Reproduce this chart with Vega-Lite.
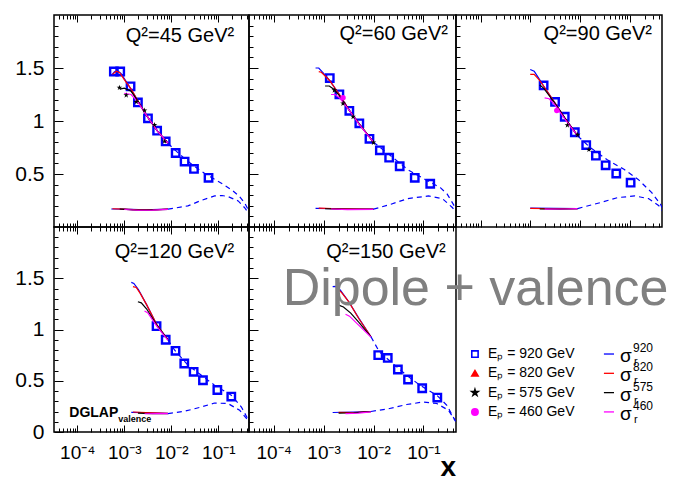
{
"$schema": "https://vega.github.io/schema/vega-lite/v6.json",
"background": "white",
"padding": {"left": 14, "top": 13, "right": 0, "bottom": 4},
"columns": 3,
"spacing": 0,
"bounds": "flush",
"align": "each",
"datasets": {
"pts": [
{"p":1,"e":"920","x":0.0006,"y":1.467},{"p":1,"e":"920","x":0.00082,"y":1.467},{"p":1,"e":"920","x":0.00136,"y":1.327},{"p":1,"e":"920","x":0.00195,"y":1.175},{"p":1,"e":"920","x":0.00319,"y":1.025},{"p":1,"e":"920","x":0.005,"y":0.909},{"p":1,"e":"920","x":0.0076,"y":0.807},{"p":1,"e":"920","x":0.0124,"y":0.698},{"p":1,"e":"920","x":0.0192,"y":0.617},{"p":1,"e":"920","x":0.0304,"y":0.548},{"p":1,"e":"920","x":0.062,"y":0.464},
{"p":1,"e":"575","x":0.00079,"y":1.315},{"p":1,"e":"575","x":0.0011,"y":1.243},{"p":1,"e":"575","x":0.0018,"y":1.18},{"p":1,"e":"575","x":0.0027,"y":1.10},{"p":1,"e":"575","x":0.0044,"y":0.963},{"p":1,"e":"575","x":0.0072,"y":0.807},
{"p":2,"e":"920","x":0.00133,"y":1.405},{"p":2,"e":"920","x":0.00207,"y":1.252},{"p":2,"e":"920","x":0.00328,"y":1.096},{"p":2,"e":"920","x":0.0052,"y":0.978},{"p":2,"e":"920","x":0.0083,"y":0.832},{"p":2,"e":"920","x":0.0134,"y":0.723},{"p":2,"e":"920","x":0.0206,"y":0.654},{"p":2,"e":"920","x":0.0335,"y":0.573},{"p":2,"e":"920","x":0.0671,"y":0.464},{"p":2,"e":"920","x":0.137,"y":0.408},
{"p":2,"e":"575","x":0.00164,"y":1.29},{"p":2,"e":"575","x":0.00245,"y":1.165},{"p":2,"e":"575","x":0.0039,"y":1.04},{"p":2,"e":"575","x":0.01,"y":0.797},
{"p":2,"e":"460","x":0.00245,"y":1.22},
{"p":3,"e":"920","x":0.00186,"y":1.336},{"p":3,"e":"920","x":0.00316,"y":1.18},{"p":3,"e":"920","x":0.00495,"y":1.04},{"p":3,"e":"920","x":0.0079,"y":0.894},{"p":3,"e":"920","x":0.0134,"y":0.773},{"p":3,"e":"920","x":0.021,"y":0.673},{"p":3,"e":"920","x":0.033,"y":0.582},{"p":3,"e":"920","x":0.054,"y":0.505},{"p":3,"e":"920","x":0.105,"y":0.418},
{"p":3,"e":"575","x":0.0056,"y":0.96},{"p":3,"e":"575","x":0.009,"y":0.87},{"p":3,"e":"575","x":0.0152,"y":0.729},
{"p":3,"e":"460","x":0.00343,"y":1.10},
{"p":4,"e":"920","x":0.00486,"y":1.033},{"p":4,"e":"920","x":0.0076,"y":0.9},{"p":4,"e":"920","x":0.0123,"y":0.792},{"p":4,"e":"920","x":0.0189,"y":0.668},{"p":4,"e":"920","x":0.0299,"y":0.587},{"p":4,"e":"920","x":0.0472,"y":0.505},{"p":4,"e":"920","x":0.0955,"y":0.41},{"p":4,"e":"920","x":0.189,"y":0.346},
{"p":5,"e":"920","x":0.01245,"y":0.75},{"p":5,"e":"920","x":0.0193,"y":0.723},{"p":5,"e":"920","x":0.0308,"y":0.61},{"p":5,"e":"920","x":0.0492,"y":0.512},{"p":5,"e":"920","x":0.0946,"y":0.427},{"p":5,"e":"920","x":0.19,"y":0.336}
],
"curves": [
{"p":1,"s":"920","part":"up","x":0.00053,"y":1.43},{"p":1,"s":"920","part":"up","x":0.00062,"y":1.465},{"p":1,"s":"920","part":"up","x":0.00072,"y":1.475},{"p":1,"s":"920","part":"up","x":0.00085,"y":1.45},{"p":1,"s":"920","part":"up","x":0.001,"y":1.40},{"p":1,"s":"920","part":"up","x":0.0014,"y":1.30},{"p":1,"s":"920","part":"up","x":0.002,"y":1.18},{"p":1,"s":"920","part":"up","x":0.003,"y":1.05},{"p":1,"s":"920","part":"up","x":0.005,"y":0.91},{"p":1,"s":"920","part":"up","x":0.0085,"y":0.79},
{"p":1,"s":"920","part":"lo","x":0.00053,"y":0.17},{"p":1,"s":"920","part":"lo","x":0.001,"y":0.168},{"p":1,"s":"920","part":"lo","x":0.002,"y":0.163},{"p":1,"s":"920","part":"lo","x":0.004,"y":0.163},{"p":1,"s":"920","part":"lo","x":0.0085,"y":0.168},
{"p":1,"s":"820","part":"up","x":0.00056,"y":1.44},{"p":1,"s":"820","part":"up","x":0.00068,"y":1.47},{"p":1,"s":"820","part":"up","x":0.0008,"y":1.455},{"p":1,"s":"820","part":"up","x":0.001,"y":1.39},{"p":1,"s":"820","part":"up","x":0.0014,"y":1.30},{"p":1,"s":"820","part":"up","x":0.002,"y":1.18},{"p":1,"s":"820","part":"up","x":0.003,"y":1.05},{"p":1,"s":"820","part":"up","x":0.005,"y":0.91},{"p":1,"s":"820","part":"up","x":0.0085,"y":0.79},
{"p":1,"s":"820","part":"lo","x":0.00056,"y":0.172},{"p":1,"s":"820","part":"lo","x":0.001,"y":0.168},{"p":1,"s":"820","part":"lo","x":0.002,"y":0.162},{"p":1,"s":"820","part":"lo","x":0.004,"y":0.162},{"p":1,"s":"820","part":"lo","x":0.0085,"y":0.168},
{"p":1,"s":"575","part":"up","x":0.0008,"y":1.30},{"p":1,"s":"575","part":"up","x":0.001,"y":1.31},{"p":1,"s":"575","part":"up","x":0.0014,"y":1.28},{"p":1,"s":"575","part":"up","x":0.002,"y":1.18},{"p":1,"s":"575","part":"up","x":0.003,"y":1.05},{"p":1,"s":"575","part":"up","x":0.005,"y":0.91},{"p":1,"s":"575","part":"up","x":0.0085,"y":0.79},
{"p":1,"s":"575","part":"lo","x":0.0008,"y":0.17},{"p":1,"s":"575","part":"lo","x":0.0015,"y":0.162},{"p":1,"s":"575","part":"lo","x":0.003,"y":0.16},{"p":1,"s":"575","part":"lo","x":0.0085,"y":0.167},
{"p":1,"s":"460","part":"up","x":0.001,"y":1.26},{"p":1,"s":"460","part":"up","x":0.0014,"y":1.25},{"p":1,"s":"460","part":"up","x":0.002,"y":1.17},{"p":1,"s":"460","part":"up","x":0.003,"y":1.05},{"p":1,"s":"460","part":"up","x":0.005,"y":0.91},{"p":1,"s":"460","part":"up","x":0.0085,"y":0.79},
{"p":1,"s":"460","part":"lo","x":0.001,"y":0.165},{"p":1,"s":"460","part":"lo","x":0.002,"y":0.158},{"p":1,"s":"460","part":"lo","x":0.004,"y":0.16},{"p":1,"s":"460","part":"lo","x":0.0085,"y":0.166},
{"p":1,"s":"dash","part":"up","x":0.0085,"y":0.79},{"p":1,"s":"dash","part":"up","x":0.0124,"y":0.72},{"p":1,"s":"dash","part":"up","x":0.0192,"y":0.645},{"p":1,"s":"dash","part":"up","x":0.0304,"y":0.575},{"p":1,"s":"dash","part":"up","x":0.05,"y":0.51},{"p":1,"s":"dash","part":"up","x":0.08,"y":0.455},{"p":1,"s":"dash","part":"up","x":0.13,"y":0.40},{"p":1,"s":"dash","part":"up","x":0.2,"y":0.345},{"p":1,"s":"dash","part":"up","x":0.28,"y":0.29},{"p":1,"s":"dash","part":"up","x":0.36,"y":0.23},{"p":1,"s":"dash","part":"up","x":0.45,"y":0.15},{"p":1,"s":"dash","part":"up","x":0.5,"y":0.11},
{"p":1,"s":"dash","part":"lo","x":0.0085,"y":0.168},{"p":1,"s":"dash","part":"lo","x":0.0226,"y":0.199},{"p":1,"s":"dash","part":"lo","x":0.044,"y":0.252},{"p":1,"s":"dash","part":"lo","x":0.084,"y":0.293},{"p":1,"s":"dash","part":"lo","x":0.12,"y":0.297},{"p":1,"s":"dash","part":"lo","x":0.16,"y":0.287},{"p":1,"s":"dash","part":"lo","x":0.265,"y":0.246},{"p":1,"s":"dash","part":"lo","x":0.36,"y":0.184},{"p":1,"s":"dash","part":"lo","x":0.47,"y":0.112},

{"p":2,"s":"920","part":"up","x":0.00069,"y":1.50},{"p":2,"s":"920","part":"up","x":0.0008,"y":1.50},{"p":2,"s":"920","part":"up","x":0.001,"y":1.45},{"p":2,"s":"920","part":"up","x":0.00133,"y":1.38},{"p":2,"s":"920","part":"up","x":0.00207,"y":1.25},{"p":2,"s":"920","part":"up","x":0.00328,"y":1.10},{"p":2,"s":"920","part":"up","x":0.0052,"y":0.97},{"p":2,"s":"920","part":"up","x":0.01,"y":0.80},
{"p":2,"s":"920","part":"lo","x":0.00069,"y":0.175},{"p":2,"s":"920","part":"lo","x":0.002,"y":0.172},{"p":2,"s":"920","part":"lo","x":0.005,"y":0.17},{"p":2,"s":"920","part":"lo","x":0.01,"y":0.168},
{"p":2,"s":"820","part":"up","x":0.0008,"y":1.465},{"p":2,"s":"820","part":"up","x":0.0009,"y":1.46},{"p":2,"s":"820","part":"up","x":0.0011,"y":1.42},{"p":2,"s":"820","part":"up","x":0.00133,"y":1.38},{"p":2,"s":"820","part":"up","x":0.00207,"y":1.25},{"p":2,"s":"820","part":"up","x":0.00328,"y":1.10},{"p":2,"s":"820","part":"up","x":0.0052,"y":0.97},{"p":2,"s":"820","part":"up","x":0.01,"y":0.80},
{"p":2,"s":"820","part":"lo","x":0.0008,"y":0.178},{"p":2,"s":"820","part":"lo","x":0.002,"y":0.172},{"p":2,"s":"820","part":"lo","x":0.01,"y":0.168},
{"p":2,"s":"575","part":"up","x":0.00107,"y":1.33},{"p":2,"s":"575","part":"up","x":0.0013,"y":1.33},{"p":2,"s":"575","part":"up","x":0.0016,"y":1.30},{"p":2,"s":"575","part":"up","x":0.00207,"y":1.24},{"p":2,"s":"575","part":"up","x":0.00328,"y":1.10},{"p":2,"s":"575","part":"up","x":0.0052,"y":0.97},{"p":2,"s":"575","part":"up","x":0.01,"y":0.80},
{"p":2,"s":"575","part":"lo","x":0.00107,"y":0.172},{"p":2,"s":"575","part":"lo","x":0.003,"y":0.166},{"p":2,"s":"575","part":"lo","x":0.01,"y":0.167},
{"p":2,"s":"460","part":"up","x":0.00141,"y":1.25},{"p":2,"s":"460","part":"up","x":0.0017,"y":1.25},{"p":2,"s":"460","part":"up","x":0.00207,"y":1.22},{"p":2,"s":"460","part":"up","x":0.00328,"y":1.10},{"p":2,"s":"460","part":"up","x":0.0052,"y":0.965},{"p":2,"s":"460","part":"up","x":0.01,"y":0.80},
{"p":2,"s":"460","part":"lo","x":0.00141,"y":0.17},{"p":2,"s":"460","part":"lo","x":0.003,"y":0.164},{"p":2,"s":"460","part":"lo","x":0.01,"y":0.166},
{"p":2,"s":"dash","part":"up","x":0.01,"y":0.80},{"p":2,"s":"dash","part":"up","x":0.0224,"y":0.67},{"p":2,"s":"dash","part":"up","x":0.049,"y":0.54},{"p":2,"s":"dash","part":"up","x":0.108,"y":0.449},{"p":2,"s":"dash","part":"up","x":0.219,"y":0.371},{"p":2,"s":"dash","part":"up","x":0.3,"y":0.31},{"p":2,"s":"dash","part":"up","x":0.38,"y":0.23},{"p":2,"s":"dash","part":"up","x":0.52,"y":0.12},
{"p":2,"s":"dash","part":"lo","x":0.01,"y":0.168},{"p":2,"s":"dash","part":"lo","x":0.0224,"y":0.215},{"p":2,"s":"dash","part":"lo","x":0.049,"y":0.268},{"p":2,"s":"dash","part":"lo","x":0.126,"y":0.293},{"p":2,"s":"dash","part":"lo","x":0.24,"y":0.268},{"p":2,"s":"dash","part":"lo","x":0.38,"y":0.184},{"p":2,"s":"dash","part":"lo","x":0.52,"y":0.106},

{"p":3,"s":"920","part":"up","x":0.001,"y":1.486},{"p":3,"s":"920","part":"up","x":0.0012,"y":1.47},{"p":3,"s":"920","part":"up","x":0.0015,"y":1.40},{"p":3,"s":"920","part":"up","x":0.00186,"y":1.33},{"p":3,"s":"920","part":"up","x":0.00316,"y":1.17},{"p":3,"s":"920","part":"up","x":0.00495,"y":1.03},{"p":3,"s":"920","part":"up","x":0.009,"y":0.86},
{"p":3,"s":"920","part":"lo","x":0.001,"y":0.178},{"p":3,"s":"920","part":"lo","x":0.003,"y":0.175},{"p":3,"s":"920","part":"lo","x":0.009,"y":0.174},
{"p":3,"s":"820","part":"up","x":0.001,"y":1.44},{"p":3,"s":"820","part":"up","x":0.0012,"y":1.44},{"p":3,"s":"820","part":"up","x":0.0015,"y":1.39},{"p":3,"s":"820","part":"up","x":0.00186,"y":1.33},{"p":3,"s":"820","part":"up","x":0.00316,"y":1.17},{"p":3,"s":"820","part":"up","x":0.00495,"y":1.03},{"p":3,"s":"820","part":"up","x":0.009,"y":0.86},
{"p":3,"s":"820","part":"lo","x":0.001,"y":0.176},{"p":3,"s":"820","part":"lo","x":0.003,"y":0.172},{"p":3,"s":"820","part":"lo","x":0.009,"y":0.174},
{"p":3,"s":"575","part":"up","x":0.00155,"y":1.34},{"p":3,"s":"575","part":"up","x":0.00186,"y":1.31},{"p":3,"s":"575","part":"up","x":0.00316,"y":1.165},{"p":3,"s":"575","part":"up","x":0.00495,"y":1.03},{"p":3,"s":"575","part":"up","x":0.009,"y":0.86},
{"p":3,"s":"575","part":"lo","x":0.00155,"y":0.17},{"p":3,"s":"575","part":"lo","x":0.004,"y":0.168},{"p":3,"s":"575","part":"lo","x":0.009,"y":0.172},
{"p":3,"s":"460","part":"up","x":0.00195,"y":1.218},{"p":3,"s":"460","part":"up","x":0.0024,"y":1.21},{"p":3,"s":"460","part":"up","x":0.00316,"y":1.15},{"p":3,"s":"460","part":"up","x":0.00495,"y":1.02},{"p":3,"s":"460","part":"up","x":0.009,"y":0.86},
{"p":3,"s":"460","part":"lo","x":0.00195,"y":0.168},{"p":3,"s":"460","part":"lo","x":0.005,"y":0.17},{"p":3,"s":"460","part":"lo","x":0.009,"y":0.173},
{"p":3,"s":"dash","part":"up","x":0.009,"y":0.86},{"p":3,"s":"dash","part":"up","x":0.0152,"y":0.76},{"p":3,"s":"dash","part":"up","x":0.035,"y":0.636},{"p":3,"s":"dash","part":"up","x":0.0785,"y":0.542},{"p":3,"s":"dash","part":"up","x":0.149,"y":0.449},{"p":3,"s":"dash","part":"up","x":0.28,"y":0.324},{"p":3,"s":"dash","part":"up","x":0.42,"y":0.215},{"p":3,"s":"dash","part":"up","x":0.52,"y":0.12},
{"p":3,"s":"dash","part":"lo","x":0.009,"y":0.174},{"p":3,"s":"dash","part":"lo","x":0.0257,"y":0.23},{"p":3,"s":"dash","part":"lo","x":0.057,"y":0.277},{"p":3,"s":"dash","part":"lo","x":0.127,"y":0.293},{"p":3,"s":"dash","part":"lo","x":0.24,"y":0.268},{"p":3,"s":"dash","part":"lo","x":0.39,"y":0.2},{"p":3,"s":"dash","part":"lo","x":0.52,"y":0.12},

{"p":4,"s":"920","part":"up","x":0.00141,"y":1.46},{"p":4,"s":"920","part":"up","x":0.0016,"y":1.45},{"p":4,"s":"920","part":"up","x":0.002,"y":1.39},{"p":4,"s":"920","part":"up","x":0.003,"y":1.24},{"p":4,"s":"920","part":"up","x":0.00486,"y":1.05},{"p":4,"s":"920","part":"up","x":0.0085,"y":0.9},
{"p":4,"s":"920","part":"lo","x":0.00141,"y":0.192},{"p":4,"s":"920","part":"lo","x":0.004,"y":0.188},{"p":4,"s":"920","part":"lo","x":0.0085,"y":0.182},
{"p":4,"s":"820","part":"up","x":0.00153,"y":1.418},{"p":4,"s":"820","part":"up","x":0.0018,"y":1.41},{"p":4,"s":"820","part":"up","x":0.0022,"y":1.35},{"p":4,"s":"820","part":"up","x":0.003,"y":1.24},{"p":4,"s":"820","part":"up","x":0.00486,"y":1.05},{"p":4,"s":"820","part":"up","x":0.0085,"y":0.9},
{"p":4,"s":"820","part":"lo","x":0.00153,"y":0.195},{"p":4,"s":"820","part":"lo","x":0.004,"y":0.186},{"p":4,"s":"820","part":"lo","x":0.0085,"y":0.182},
{"p":4,"s":"575","part":"up","x":0.00195,"y":1.271},{"p":4,"s":"575","part":"up","x":0.0023,"y":1.26},{"p":4,"s":"575","part":"up","x":0.003,"y":1.20},{"p":4,"s":"575","part":"up","x":0.00486,"y":1.045},{"p":4,"s":"575","part":"up","x":0.0085,"y":0.9},
{"p":4,"s":"575","part":"lo","x":0.00195,"y":0.185},{"p":4,"s":"575","part":"lo","x":0.004,"y":0.18},{"p":4,"s":"575","part":"lo","x":0.0085,"y":0.18},
{"p":4,"s":"460","part":"up","x":0.0027,"y":1.18},{"p":4,"s":"460","part":"up","x":0.0032,"y":1.16},{"p":4,"s":"460","part":"up","x":0.00486,"y":1.035},{"p":4,"s":"460","part":"up","x":0.0085,"y":0.895},
{"p":4,"s":"460","part":"lo","x":0.0027,"y":0.178},{"p":4,"s":"460","part":"lo","x":0.005,"y":0.18},{"p":4,"s":"460","part":"lo","x":0.0085,"y":0.18},
{"p":4,"s":"dash","part":"up","x":0.0085,"y":0.9},{"p":4,"s":"dash","part":"up","x":0.0117,"y":0.8},{"p":4,"s":"dash","part":"up","x":0.0227,"y":0.652},{"p":4,"s":"dash","part":"up","x":0.0436,"y":0.554},{"p":4,"s":"dash","part":"up","x":0.083,"y":0.457},{"p":4,"s":"dash","part":"up","x":0.189,"y":0.359},{"p":4,"s":"dash","part":"up","x":0.31,"y":0.244},{"p":4,"s":"dash","part":"up","x":0.46,"y":0.098},
{"p":4,"s":"dash","part":"lo","x":0.0085,"y":0.18},{"p":4,"s":"dash","part":"lo","x":0.019,"y":0.202},{"p":4,"s":"dash","part":"lo","x":0.0436,"y":0.244},{"p":4,"s":"dash","part":"lo","x":0.083,"y":0.283},{"p":4,"s":"dash","part":"lo","x":0.16,"y":0.278},{"p":4,"s":"dash","part":"lo","x":0.285,"y":0.212},{"p":4,"s":"dash","part":"lo","x":0.46,"y":0.098},

{"p":5,"s":"920","part":"up","x":0.00152,"y":1.418},{"p":5,"s":"920","part":"up","x":0.00175,"y":1.42},{"p":5,"s":"920","part":"up","x":0.00215,"y":1.385},{"p":5,"s":"920","part":"up","x":0.0032,"y":1.271},{"p":5,"s":"920","part":"up","x":0.0051,"y":1.108},{"p":5,"s":"920","part":"up","x":0.0089,"y":0.929},
{"p":5,"s":"920","part":"lo","x":0.00152,"y":0.19},{"p":5,"s":"920","part":"lo","x":0.004,"y":0.195},{"p":5,"s":"920","part":"lo","x":0.0089,"y":0.2},
{"p":5,"s":"820","part":"up","x":0.002,"y":1.385},{"p":5,"s":"820","part":"up","x":0.0023,"y":1.36},{"p":5,"s":"820","part":"up","x":0.0032,"y":1.27},{"p":5,"s":"820","part":"up","x":0.0051,"y":1.105},{"p":5,"s":"820","part":"up","x":0.0089,"y":0.929},
{"p":5,"s":"820","part":"lo","x":0.002,"y":0.192},{"p":5,"s":"820","part":"lo","x":0.004,"y":0.19},{"p":5,"s":"820","part":"lo","x":0.0089,"y":0.2},
{"p":5,"s":"575","part":"up","x":0.002,"y":1.238},{"p":5,"s":"575","part":"up","x":0.0025,"y":1.22},{"p":5,"s":"575","part":"up","x":0.0035,"y":1.16},{"p":5,"s":"575","part":"up","x":0.0051,"y":1.07},{"p":5,"s":"575","part":"up","x":0.0089,"y":0.929},
{"p":5,"s":"575","part":"lo","x":0.002,"y":0.185},{"p":5,"s":"575","part":"lo","x":0.004,"y":0.188},{"p":5,"s":"575","part":"lo","x":0.0089,"y":0.198},
{"p":5,"s":"460","part":"up","x":0.00275,"y":1.148},{"p":5,"s":"460","part":"up","x":0.0033,"y":1.13},{"p":5,"s":"460","part":"up","x":0.0051,"y":1.04},{"p":5,"s":"460","part":"up","x":0.0089,"y":0.925},
{"p":5,"s":"460","part":"lo","x":0.00275,"y":0.18},{"p":5,"s":"460","part":"lo","x":0.005,"y":0.185},{"p":5,"s":"460","part":"lo","x":0.0089,"y":0.197},
{"p":5,"s":"dash","part":"up","x":0.0089,"y":0.929},{"p":5,"s":"dash","part":"up","x":0.0131,"y":0.782},{"p":5,"s":"dash","part":"up","x":0.0245,"y":0.668},{"p":5,"s":"dash","part":"up","x":0.046,"y":0.554},{"p":5,"s":"dash","part":"up","x":0.085,"y":0.457},{"p":5,"s":"dash","part":"up","x":0.185,"y":0.359},{"p":5,"s":"dash","part":"up","x":0.295,"y":0.261},{"p":5,"s":"dash","part":"up","x":0.43,"y":0.114},{"p":5,"s":"dash","part":"up","x":0.5,"y":0.05},
{"p":5,"s":"dash","part":"lo","x":0.0089,"y":0.2},{"p":5,"s":"dash","part":"lo","x":0.021,"y":0.229},{"p":5,"s":"dash","part":"lo","x":0.046,"y":0.268},{"p":5,"s":"dash","part":"lo","x":0.1,"y":0.293},{"p":5,"s":"dash","part":"lo","x":0.185,"y":0.278},{"p":5,"s":"dash","part":"lo","x":0.318,"y":0.212},{"p":5,"s":"dash","part":"lo","x":0.43,"y":0.114}
],
"legend": [
{"row":0,"s":"920","label":"Eₚ = 920 GeV","sig":"920"},
{"row":1,"s":"820","label":"Eₚ = 820 GeV","sig":"820"},
{"row":2,"s":"575","label":"Eₚ = 575 GeV","sig":"575"},
{"row":3,"s":"460","label":"Eₚ = 460 GeV","sig":"460"}
]
},
"concat": [
{
"width": 195, "height": 212,
"layer": [
{"data":{"name":"pts"},"transform":[{"filter":"datum.p==1 && datum.e=='920'"}],
 "mark":{"type":"point","shape":"square","filled":false,"color":"#0000ff","strokeWidth":2.4,"size":55,"opacity":1},
 "encoding":{"x":{"field":"x","type":"quantitative","scale":{"type":"log","domain":[0.000032,0.45]},"axis":{"orient":"bottom","title":null,"values":[0.0001,0.001,0.01,0.1],"tickSize":-7,"labels":false}},
 "y":{"field":"y","type":"quantitative","scale":{"domain":[0,2]},"axis":{"orient":"left","title":null,"values":[0.5,1,1.5],"tickSize":-9,"labelPadding":19,"format":"~g","labelFlush":false}}}},
{"data":{"name":"curves"},"transform":[{"filter":"datum.p==1 && datum.s!='dash'"}],
 "mark":{"type":"line","clip":true,"strokeWidth":1.2},
 "encoding":{"x":{"field":"x","type":"quantitative","scale":{"type":"log","domain":[0.000032,0.45]},"axis":{"orient":"bottom","title":null,"values":[0.00004,0.00005,0.00006,0.00007,0.00008,0.00009,0.0002,0.0003,0.0004,0.0005,0.0006,0.0007,0.0008,0.0009,0.002,0.003,0.004,0.005,0.006,0.007,0.008,0.009,0.02,0.03,0.04,0.05,0.06,0.07,0.08,0.09,0.2,0.3,0.4],"tickSize":-4,"labels":false}},
 "y":{"field":"y","type":"quantitative","scale":{"domain":[0,2]},"axis":{"orient":"left","title":null,"values":[0.1,0.2,0.3,0.4,0.6,0.7,0.8,0.9,1.1,1.2,1.3,1.4,1.6,1.7,1.8,1.9],"tickSize":-4,"labels":false}},
 "color":{"field":"s","type":"nominal","scale":{"domain":["920","820","575","460"],"range":["#0000ff","#ff0000","#000000","#ff00ff"]},"legend":null},
 "detail":{"field":"part"}}},
{"data":{"name":"curves"},"transform":[{"filter":"datum.p==1 && datum.s=='dash'"}],
 "mark":{"type":"line","clip":true,"strokeWidth":1.2,"color":"#0000ff","strokeDash":[5,4]},
 "encoding":{"x":{"field":"x","type":"quantitative","scale":{"type":"log","domain":[0.000032,0.45]},"axis":{"orient":"top","title":null,"values":[0.0001,0.001,0.01,0.1],"tickSize":-7,"labels":false}},
 "y":{"field":"y","type":"quantitative","scale":{"domain":[0,2]},"axis":null},"detail":{"field":"part"}}},
{"data":{"name":"pts"},"transform":[{"filter":"datum.p==1 && datum.e=='575'"}],
 "mark":{"type":"point","shape":"M0,-1L0.2245,-0.309L0.9511,-0.309L0.3633,0.118L0.5878,0.809L0,0.382L-0.5878,0.809L-0.3633,0.118L-0.9511,-0.309L-0.2245,-0.309Z","filled":true,"color":"#000000","size":35,"opacity":1},
 "encoding":{"x":{"field":"x","type":"quantitative","scale":{"type":"log","domain":[0.000032,0.45]},"axis":{"orient":"top","title":null,"values":[0.00004,0.00005,0.00006,0.00007,0.00008,0.00009,0.0002,0.0003,0.0004,0.0005,0.0006,0.0007,0.0008,0.0009,0.002,0.003,0.004,0.005,0.006,0.007,0.008,0.009,0.02,0.03,0.04,0.05,0.06,0.07,0.08,0.09,0.2,0.3,0.4],"tickSize":-4,"labels":false}},
 "y":{"field":"y","type":"quantitative","scale":{"domain":[0,2]},"axis":null}}},
{"data":{"values":[{}]},
 "mark":{"type":"text","align":"right","baseline":"alphabetic","fontSize":20,"color":"#000000"},
 "encoding":{"x":{"datum":0.218,"type":"quantitative","scale":{"type":"log","domain":[0.000032,0.45]},"axis":null},"y":{"datum":1.75,"type":"quantitative","scale":{"domain":[0,2]},"axis":null},"text":{"value":"Q²=45 GeV²"}}}
],
"resolve":{"axis":{"x":"independent","y":"independent"}}
},
{
"width": 207, "height": 212,
"layer": [
{"data":{"name":"pts"},"transform":[{"filter":"datum.p==2 && datum.e=='920'"}],
 "mark":{"type":"point","shape":"square","filled":false,"color":"#0000ff","strokeWidth":2.4,"size":55,"opacity":1},
 "encoding":{"x":{"field":"x","type":"quantitative","scale":{"type":"log","domain":[0.000032,0.45]},"axis":{"orient":"bottom","title":null,"values":[0.0001,0.001,0.01,0.1],"tickSize":-7,"labels":false}},
 "y":{"field":"y","type":"quantitative","scale":{"domain":[0,2]},"axis":{"orient":"left","title":null,"values":[0.5,1,1.5],"tickSize":-9,"labels":false}}}},
{"data":{"name":"curves"},"transform":[{"filter":"datum.p==2 && datum.s!='dash'"}],
 "mark":{"type":"line","clip":true,"strokeWidth":1.2},
 "encoding":{"x":{"field":"x","type":"quantitative","scale":{"type":"log","domain":[0.000032,0.45]},"axis":{"orient":"bottom","title":null,"values":[0.00004,0.00005,0.00006,0.00007,0.00008,0.00009,0.0002,0.0003,0.0004,0.0005,0.0006,0.0007,0.0008,0.0009,0.002,0.003,0.004,0.005,0.006,0.007,0.008,0.009,0.02,0.03,0.04,0.05,0.06,0.07,0.08,0.09,0.2,0.3,0.4],"tickSize":-4,"labels":false}},
 "y":{"field":"y","type":"quantitative","scale":{"domain":[0,2]},"axis":{"orient":"left","title":null,"values":[0.1,0.2,0.3,0.4,0.6,0.7,0.8,0.9,1.1,1.2,1.3,1.4,1.6,1.7,1.8,1.9],"tickSize":-4,"labels":false}},
 "color":{"field":"s","type":"nominal","scale":{"domain":["920","820","575","460"],"range":["#0000ff","#ff0000","#000000","#ff00ff"]},"legend":null},
 "detail":{"field":"part"}}},
{"data":{"name":"curves"},"transform":[{"filter":"datum.p==2 && datum.s=='dash'"}],
 "mark":{"type":"line","clip":true,"strokeWidth":1.2,"color":"#0000ff","strokeDash":[5,4]},
 "encoding":{"x":{"field":"x","type":"quantitative","scale":{"type":"log","domain":[0.000032,0.45]},"axis":{"orient":"top","title":null,"values":[0.0001,0.001,0.01,0.1],"tickSize":-7,"labels":false}},
 "y":{"field":"y","type":"quantitative","scale":{"domain":[0,2]},"axis":null},"detail":{"field":"part"}}},
{"data":{"name":"pts"},"transform":[{"filter":"datum.p==2 && datum.e=='575'"}],
 "mark":{"type":"point","shape":"M0,-1L0.2245,-0.309L0.9511,-0.309L0.3633,0.118L0.5878,0.809L0,0.382L-0.5878,0.809L-0.3633,0.118L-0.9511,-0.309L-0.2245,-0.309Z","filled":true,"color":"#000000","size":35,"opacity":1},
 "encoding":{"x":{"field":"x","type":"quantitative","scale":{"type":"log","domain":[0.000032,0.45]},"axis":{"orient":"top","title":null,"values":[0.00004,0.00005,0.00006,0.00007,0.00008,0.00009,0.0002,0.0003,0.0004,0.0005,0.0006,0.0007,0.0008,0.0009,0.002,0.003,0.004,0.005,0.006,0.007,0.008,0.009,0.02,0.03,0.04,0.05,0.06,0.07,0.08,0.09,0.2,0.3,0.4],"tickSize":-4,"labels":false}},
 "y":{"field":"y","type":"quantitative","scale":{"domain":[0,2]},"axis":null}}},
{"data":{"name":"pts"},"transform":[{"filter":"datum.p==2 && datum.e=='460'"}],
 "mark":{"type":"point","shape":"circle","filled":true,"color":"#ff00ff","size":30,"opacity":1},
 "encoding":{"x":{"field":"x","type":"quantitative","scale":{"type":"log","domain":[0.000032,0.45]},"axis":null},
 "y":{"field":"y","type":"quantitative","scale":{"domain":[0,2]},"axis":null}}},
{"data":{"values":[{}]},
 "mark":{"type":"text","align":"right","baseline":"alphabetic","fontSize":20,"color":"#000000"},
 "encoding":{"x":{"datum":0.31,"type":"quantitative","scale":{"type":"log","domain":[0.000032,0.45]},"axis":null},"y":{"datum":1.763,"type":"quantitative","scale":{"domain":[0,2]},"axis":null},"text":{"value":"Q²=60 GeV²"}}}
],
"resolve":{"axis":{"x":"independent","y":"independent"}}
},
{
"width": 206, "height": 212,
"layer": [
{"data":{"name":"pts"},"transform":[{"filter":"datum.p==3 && datum.e=='920'"}],
 "mark":{"type":"point","shape":"square","filled":false,"color":"#0000ff","strokeWidth":2.4,"size":55,"opacity":1},
 "encoding":{"x":{"field":"x","type":"quantitative","scale":{"type":"log","domain":[0.000032,0.45]},"axis":{"orient":"bottom","title":null,"values":[0.0001,0.001,0.01,0.1],"tickSize":-7,"labels":false}},
 "y":{"field":"y","type":"quantitative","scale":{"domain":[0,2]},"axis":{"orient":"left","title":null,"values":[0.5,1,1.5],"tickSize":-9,"labels":false}}}},
{"data":{"name":"curves"},"transform":[{"filter":"datum.p==3 && datum.s!='dash'"}],
 "mark":{"type":"line","clip":true,"strokeWidth":1.2},
 "encoding":{"x":{"field":"x","type":"quantitative","scale":{"type":"log","domain":[0.000032,0.45]},"axis":{"orient":"bottom","title":null,"values":[0.00004,0.00005,0.00006,0.00007,0.00008,0.00009,0.0002,0.0003,0.0004,0.0005,0.0006,0.0007,0.0008,0.0009,0.002,0.003,0.004,0.005,0.006,0.007,0.008,0.009,0.02,0.03,0.04,0.05,0.06,0.07,0.08,0.09,0.2,0.3,0.4],"tickSize":-4,"labels":false}},
 "y":{"field":"y","type":"quantitative","scale":{"domain":[0,2]},"axis":{"orient":"left","title":null,"values":[0.1,0.2,0.3,0.4,0.6,0.7,0.8,0.9,1.1,1.2,1.3,1.4,1.6,1.7,1.8,1.9],"tickSize":-4,"labels":false}},
 "color":{"field":"s","type":"nominal","scale":{"domain":["920","820","575","460"],"range":["#0000ff","#ff0000","#000000","#ff00ff"]},"legend":null},
 "detail":{"field":"part"}}},
{"data":{"name":"curves"},"transform":[{"filter":"datum.p==3 && datum.s=='dash'"}],
 "mark":{"type":"line","clip":true,"strokeWidth":1.2,"color":"#0000ff","strokeDash":[5,4]},
 "encoding":{"x":{"field":"x","type":"quantitative","scale":{"type":"log","domain":[0.000032,0.45]},"axis":{"orient":"top","title":null,"values":[0.0001,0.001,0.01,0.1],"tickSize":-7,"labels":false}},
 "y":{"field":"y","type":"quantitative","scale":{"domain":[0,2]},"axis":null},"detail":{"field":"part"}}},
{"data":{"name":"pts"},"transform":[{"filter":"datum.p==3 && datum.e=='575'"}],
 "mark":{"type":"point","shape":"M0,-1L0.2245,-0.309L0.9511,-0.309L0.3633,0.118L0.5878,0.809L0,0.382L-0.5878,0.809L-0.3633,0.118L-0.9511,-0.309L-0.2245,-0.309Z","filled":true,"color":"#000000","size":35,"opacity":1},
 "encoding":{"x":{"field":"x","type":"quantitative","scale":{"type":"log","domain":[0.000032,0.45]},"axis":{"orient":"top","title":null,"values":[0.00004,0.00005,0.00006,0.00007,0.00008,0.00009,0.0002,0.0003,0.0004,0.0005,0.0006,0.0007,0.0008,0.0009,0.002,0.003,0.004,0.005,0.006,0.007,0.008,0.009,0.02,0.03,0.04,0.05,0.06,0.07,0.08,0.09,0.2,0.3,0.4],"tickSize":-4,"labels":false}},
 "y":{"field":"y","type":"quantitative","scale":{"domain":[0,2]},"axis":null}}},
{"data":{"name":"pts"},"transform":[{"filter":"datum.p==3 && datum.e=='460'"}],
 "mark":{"type":"point","shape":"circle","filled":true,"color":"#ff00ff","size":30,"opacity":1},
 "encoding":{"x":{"field":"x","type":"quantitative","scale":{"type":"log","domain":[0.000032,0.45]},"axis":null},
 "y":{"field":"y","type":"quantitative","scale":{"domain":[0,2]},"axis":null}}},
{"data":{"values":[{}]},
 "mark":{"type":"text","align":"right","baseline":"alphabetic","fontSize":20,"color":"#000000"},
 "encoding":{"x":{"datum":0.283,"type":"quantitative","scale":{"type":"log","domain":[0.000032,0.45]},"axis":null},"y":{"datum":1.76,"type":"quantitative","scale":{"domain":[0,2]},"axis":null},"text":{"value":"Q²=90 GeV²"}}}
],
"resolve":{"axis":{"x":"independent","y":"independent"}}
},
{
"width": 195, "height": 205,
"layer": [
{"data":{"name":"pts"},"transform":[{"filter":"datum.p==4 && datum.e=='920'"}],
 "mark":{"type":"point","shape":"square","filled":false,"color":"#0000ff","strokeWidth":2.4,"size":55,"opacity":1},
 "encoding":{"x":{"field":"x","type":"quantitative","scale":{"type":"log","domain":[0.000032,0.45]},"axis":{"orient":"bottom","title":null,"values":[0.0001,0.001,0.01,0.1],"tickSize":-7,"labelPadding":18,"labelFontSize":19,"labelFlush":false,"labelExpr":"datum.value < 0.0005 ? '10⁻⁴' : datum.value < 0.005 ? '10⁻³' : datum.value < 0.05 ? '10⁻²' : '10⁻¹'"}},
 "y":{"field":"y","type":"quantitative","scale":{"domain":[0,2]},"axis":{"orient":"left","title":null,"values":[0,0.5,1,1.5],"tickSize":-9,"labelPadding":19,"format":"~g","labelFlush":false}}}},
{"data":{"name":"curves"},"transform":[{"filter":"datum.p==4 && datum.s!='dash'"}],
 "mark":{"type":"line","clip":true,"strokeWidth":1.2},
 "encoding":{"x":{"field":"x","type":"quantitative","scale":{"type":"log","domain":[0.000032,0.45]},"axis":{"orient":"bottom","title":null,"values":[0.00004,0.00005,0.00006,0.00007,0.00008,0.00009,0.0002,0.0003,0.0004,0.0005,0.0006,0.0007,0.0008,0.0009,0.002,0.003,0.004,0.005,0.006,0.007,0.008,0.009,0.02,0.03,0.04,0.05,0.06,0.07,0.08,0.09,0.2,0.3,0.4],"tickSize":-4,"labels":false}},
 "y":{"field":"y","type":"quantitative","scale":{"domain":[0,2]},"axis":{"orient":"left","title":null,"values":[0.1,0.2,0.3,0.4,0.6,0.7,0.8,0.9,1.1,1.2,1.3,1.4,1.6,1.7,1.8,1.9],"tickSize":-4,"labels":false}},
 "color":{"field":"s","type":"nominal","scale":{"domain":["920","820","575","460"],"range":["#0000ff","#ff0000","#000000","#ff00ff"]},"legend":null},
 "detail":{"field":"part"}}},
{"data":{"name":"curves"},"transform":[{"filter":"datum.p==4 && datum.s=='dash'"}],
 "mark":{"type":"line","clip":true,"strokeWidth":1.2,"color":"#0000ff","strokeDash":[5,4]},
 "encoding":{"x":{"field":"x","type":"quantitative","scale":{"type":"log","domain":[0.000032,0.45]},"axis":{"orient":"top","title":null,"values":[0.0001,0.001,0.01,0.1],"tickSize":-7,"labels":false}},
 "y":{"field":"y","type":"quantitative","scale":{"domain":[0,2]},"axis":null},"detail":{"field":"part"}}},
{"data":{"values":[{}]},
 "mark":{"type":"text","align":"right","baseline":"alphabetic","fontSize":20,"color":"#000000"},
 "encoding":{"x":{"datum":0.218,"type":"quantitative","scale":{"type":"log","domain":[0.000032,0.45]},"axis":{"orient":"top","title":null,"values":[0.00004,0.00005,0.00006,0.00007,0.00008,0.00009,0.0002,0.0003,0.0004,0.0005,0.0006,0.0007,0.0008,0.0009,0.002,0.003,0.004,0.005,0.006,0.007,0.008,0.009,0.02,0.03,0.04,0.05,0.06,0.07,0.08,0.09,0.2,0.3,0.4],"tickSize":-4,"labels":false}},"y":{"datum":1.695,"type":"quantitative","scale":{"domain":[0,2]},"axis":null},"text":{"value":"Q²=120 GeV²"}}},
{"data":{"values":[{}]},
 "mark":{"type":"text","align":"left","baseline":"alphabetic","fontSize":14,"fontWeight":"bold","color":"#000000"},
 "encoding":{"x":{"datum":0.0000676,"type":"quantitative","scale":{"type":"log","domain":[0.000032,0.45]},"axis":null},"y":{"datum":0.147,"type":"quantitative","scale":{"domain":[0,2]},"axis":null},"text":{"value":"DGLAP"}}},
{"data":{"values":[{}]},
 "mark":{"type":"text","align":"left","baseline":"alphabetic","fontSize":9,"fontWeight":"bold","color":"#000000"},
 "encoding":{"x":{"datum":0.000744,"type":"quantitative","scale":{"type":"log","domain":[0.000032,0.45]},"axis":null},"y":{"datum":0.095,"type":"quantitative","scale":{"domain":[0,2]},"axis":null},"text":{"value":"valence"}}}
],
"resolve":{"axis":{"x":"independent","y":"independent"}}
},
{
"width": 207, "height": 205,
"layer": [
{"data":{"name":"pts"},"transform":[{"filter":"datum.p==5 && datum.e=='920'"}],
 "mark":{"type":"point","shape":"square","filled":false,"color":"#0000ff","strokeWidth":2.4,"size":55,"opacity":1},
 "encoding":{"x":{"field":"x","type":"quantitative","scale":{"type":"log","domain":[0.000032,0.45]},"axis":{"orient":"bottom","title":null,"values":[0.0001,0.001,0.01,0.1],"tickSize":-7,"labelPadding":18,"labelFontSize":19,"labelFlush":false,"labelExpr":"datum.value < 0.0005 ? '10⁻⁴' : datum.value < 0.005 ? '10⁻³' : datum.value < 0.05 ? '10⁻²' : '10⁻¹'"}},
 "y":{"field":"y","type":"quantitative","scale":{"domain":[0,2]},"axis":{"orient":"left","title":null,"values":[0.5,1,1.5],"tickSize":-9,"labels":false}}}},
{"data":{"name":"curves"},"transform":[{"filter":"datum.p==5 && datum.s!='dash'"}],
 "mark":{"type":"line","clip":true,"strokeWidth":1.2},
 "encoding":{"x":{"field":"x","type":"quantitative","scale":{"type":"log","domain":[0.000032,0.45]},"axis":{"orient":"bottom","title":null,"values":[0.00004,0.00005,0.00006,0.00007,0.00008,0.00009,0.0002,0.0003,0.0004,0.0005,0.0006,0.0007,0.0008,0.0009,0.002,0.003,0.004,0.005,0.006,0.007,0.008,0.009,0.02,0.03,0.04,0.05,0.06,0.07,0.08,0.09,0.2,0.3,0.4],"tickSize":-4,"labels":false}},
 "y":{"field":"y","type":"quantitative","scale":{"domain":[0,2]},"axis":{"orient":"left","title":null,"values":[0.1,0.2,0.3,0.4,0.6,0.7,0.8,0.9,1.1,1.2,1.3,1.4,1.6,1.7,1.8,1.9],"tickSize":-4,"labels":false}},
 "color":{"field":"s","type":"nominal","scale":{"domain":["920","820","575","460"],"range":["#0000ff","#ff0000","#000000","#ff00ff"]},"legend":null},
 "detail":{"field":"part"}}},
{"data":{"name":"curves"},"transform":[{"filter":"datum.p==5 && datum.s=='dash'"}],
 "mark":{"type":"line","clip":true,"strokeWidth":1.2,"color":"#0000ff","strokeDash":[5,4]},
 "encoding":{"x":{"field":"x","type":"quantitative","scale":{"type":"log","domain":[0.000032,0.45]},"axis":{"orient":"top","title":null,"values":[0.0001,0.001,0.01,0.1],"tickSize":-7,"labels":false}},
 "y":{"field":"y","type":"quantitative","scale":{"domain":[0,2]},"axis":null},"detail":{"field":"part"}}},
{"data":{"values":[{}]},
 "mark":{"type":"text","align":"right","baseline":"alphabetic","fontSize":20,"color":"#000000"},
 "encoding":{"x":{"datum":0.28,"type":"quantitative","scale":{"type":"log","domain":[0.000032,0.45]},"axis":{"orient":"top","title":null,"values":[0.00004,0.00005,0.00006,0.00007,0.00008,0.00009,0.0002,0.0003,0.0004,0.0005,0.0006,0.0007,0.0008,0.0009,0.002,0.003,0.004,0.005,0.006,0.007,0.008,0.009,0.02,0.03,0.04,0.05,0.06,0.07,0.08,0.09,0.2,0.3,0.4],"tickSize":-4,"labels":false}},"y":{"datum":1.695,"type":"quantitative","scale":{"domain":[0,2]},"axis":null},"text":{"value":"Q²=150 GeV²"}}},
{"data":{"values":[{}]},
 "mark":{"type":"text","align":"left","baseline":"alphabetic","fontSize":52,"color":"#808080"},
 "encoding":{"x":{"datum":0.000151,"type":"quantitative","scale":{"type":"log","domain":[0.000032,0.45]},"axis":null},"y":{"datum":1.24,"type":"quantitative","scale":{"domain":[0,2]},"axis":null},"text":{"value":"Dipole + valence"}}},
{"data":{"values":[{}]},
 "mark":{"type":"text","align":"right","baseline":"alphabetic","fontSize":28,"fontWeight":"bold","color":"#000000"},
 "encoding":{"x":{"datum":0.45,"type":"quantitative","scale":{"type":"log","domain":[0.000032,0.45]},"axis":null},"y":{"datum":-0.43,"type":"quantitative","scale":{"domain":[0,2]},"axis":null},"text":{"value":"x"}}}
],
"resolve":{"axis":{"x":"independent","y":"independent"}}
},
{
"width": 206, "height": 205,
"view": {"stroke": null},
"data": {"name": "legend"},
"layer": [
{"mark":{"type":"point","filled":true,"strokeWidth":1.6,"size":40,"opacity":1},
 "encoding":{"x":{"datum":0.092,"type":"quantitative","scale":{"domain":[0,1]},"axis":null},
 "y":{"field":"row","type":"quantitative","scale":{"domain":[-6.58,4.04],"reverse":true},"axis":null},
 "shape":{"field":"s","type":"nominal","scale":{"domain":["920","820","575","460"],"range":["square","triangle-up","M0,-1L0.2245,-0.309L0.9511,-0.309L0.3633,0.118L0.5878,0.809L0,0.382L-0.5878,0.809L-0.3633,0.118L-0.9511,-0.309L-0.2245,-0.309Z","circle"]},"legend":null},
 "fill":{"field":"s","type":"nominal","scale":{"domain":["920","820","575","460"],"range":["transparent","#ff0000","#000000","#ff00ff"]},"legend":null},
 "stroke":{"field":"s","type":"nominal","scale":{"domain":["920","820","575","460"],"range":["#0000ff","#ff0000","#000000","#ff00ff"]},"legend":null}}},
{"mark":{"type":"text","align":"left","baseline":"middle","fontSize":14,"color":"#000000"},
 "encoding":{"x":{"datum":0.155,"type":"quantitative","scale":{"domain":[0,1]},"axis":null},
 "y":{"field":"row","type":"quantitative","scale":{"domain":[-6.58,4.04],"reverse":true},"axis":null},
 "text":{"field":"label"}}},
{"mark":{"type":"rule","strokeWidth":1.3},
 "encoding":{"x":{"datum":0.718,"type":"quantitative","scale":{"domain":[0,1]},"axis":null},"x2":{"datum":0.767},
 "y":{"field":"row","type":"quantitative","scale":{"domain":[-6.58,4.04],"reverse":true},"axis":null},
 "stroke":{"field":"s","type":"nominal","scale":{"domain":["920","820","575","460"],"range":["#0000ff","#ff0000","#000000","#ff00ff"]},"legend":null}}},
{"mark":{"type":"text","align":"left","baseline":"middle","fontSize":19,"dy":2,"color":"#000000"},
 "encoding":{"x":{"datum":0.796,"type":"quantitative","scale":{"domain":[0,1]},"axis":null},
 "y":{"field":"row","type":"quantitative","scale":{"domain":[-6.58,4.04],"reverse":true},"axis":null},
 "text":{"value":"σ"}}},
{"mark":{"type":"text","align":"left","baseline":"middle","fontSize":12,"dy":-6,"color":"#000000"},
 "encoding":{"x":{"datum":0.859,"type":"quantitative","scale":{"domain":[0,1]},"axis":null},
 "y":{"field":"row","type":"quantitative","scale":{"domain":[-6.58,4.04],"reverse":true},"axis":null},
 "text":{"field":"sig"}}},
{"mark":{"type":"text","align":"left","baseline":"middle","fontSize":11,"dy":8,"color":"#000000"},
 "encoding":{"x":{"datum":0.864,"type":"quantitative","scale":{"domain":[0,1]},"axis":null},
 "y":{"field":"row","type":"quantitative","scale":{"domain":[-6.58,4.04],"reverse":true},"axis":null},
 "text":{"value":"r"}}}
]
}
],
"config": {
"font": "Liberation Sans",
"view": {"stroke": "#000000", "strokeWidth": 1.5},
"concat": {"spacing": 0},
"axis": {"domain": false, "grid": false, "labelColor": "#000000", "tickColor": "#000000", "tickWidth": 1, "labelFontSize": 21, "labelFont": "Liberation Sans"}
}
}
